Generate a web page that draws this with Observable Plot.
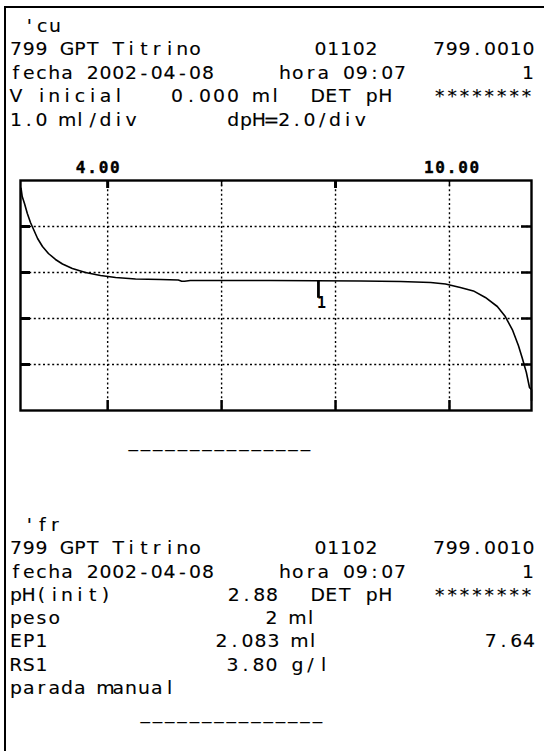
<!DOCTYPE html>
<html><head><meta charset="utf-8">
<script src="https://cdn.jsdelivr.net/npm/d3@7"></script>
<script src="https://cdn.jsdelivr.net/npm/@observablehq/plot@0.6"></script>
<style>
html,body{margin:0;padding:0;background:#fff;}
#page{position:relative;width:544px;height:751px;overflow:hidden;background:#fff;}
#border{position:absolute;left:4px;top:6px;right:0;bottom:0;border-left:2px solid #000;border-top:2px solid #000;}
.blk{position:absolute;left:0;}
</style></head><body>
<div id="page"><div id="border"></div></div>
<script>
// ---- curve data: pH (horizontal) vs volume in ml (vertical, downward)
const curvePH  = [2.48, 2.50, 2.54, 2.59, 2.645, 2.70, 2.77, 2.856, 2.96, 3.084, 3.207, 3.38, 3.61, 3.874, 4.14, 4.49, 4.93, 5.24, 5.30, 5.35, 5.45, 6.86, 8.44, 9.14, 9.67, 9.93, 10.19, 10.42, 10.63, 10.84, 10.98, 11.11, 11.21, 11.28, 11.35, 11.405, 11.44, 11.44];
const curveVol = [0.17, 0.35, 0.50, 0.717, 0.913, 1.065, 1.26, 1.435, 1.587, 1.717, 1.815, 1.913, 2.0, 2.065, 2.109, 2.141, 2.152, 2.163, 2.19, 2.19, 2.174, 2.174, 2.185, 2.196, 2.217, 2.25, 2.326, 2.40, 2.543, 2.739, 2.957, 3.26, 3.587, 3.87, 4.174, 4.50, 4.55, 4.78];
const gridPH = [4, 6, 8, 10];
const majorPH = [4, 8];
const minorPH = [6, 10];
const gridVol = [1, 2, 3, 4];
const labelPH = [4, 10];
const epPH = [7.7];
const epVolTop = 2.174;
const epVolBottom = 2.56;
const epLabelVol = 2.66;
const epLabel = ["1"];

// ---- printed text
const headerLines = [
  ["'cu"],
  ["799 GPT Titrino", "01102", "799.0010"],
  ["fecha 2002-04-08", "hora 09:07", "1"],
  ["V inicial", "0.000 ml", "DET pH", "********"],
  ["1.0 ml/div", "dpH=2.0/div"]
];
const footerLines = [
  ["'fr"],
  ["799 GPT Titrino", "01102", "799.0010"],
  ["fecha 2002-04-08", "hora 09:07", "1"],
  ["pH(init)", "2.88", "DET pH", "********"],
  ["peso", "2 ml"],
  ["EP1", "2.083 ml", "7.64"],
  ["RS1", "3.80 g/l"],
  ["parada manual"]
];
const separator = "_______________";

// ---- layout (page pixels)
const CW = 12.8;
const headerLayout = [
  [{x: 23}],
  [{x: 9.5}, {x: 314}, {x: 432.5}],
  [{x: 9.5}, {x: 278.5}, {x: 521.6}],
  [{x: 9.5}, {x: 170, cw: 14}, {x: 311, cw: 13.5}, {x: 433.5, cw: 12.4}],
  [{x: 9.5}, {x: 227, cw: 12.7}]
];
const headerY = [32, 55.5, 79, 102.5, 126];
const footerLayout = [
  [{x: 23}],
  [{x: 9.5}, {x: 314}, {x: 432.5}],
  [{x: 9.5}, {x: 278.5}, {x: 521.6}],
  [{x: 9.5}, {x: 227.3}, {x: 311, cw: 13.5}, {x: 433.5, cw: 12.4}],
  [{x: 9.5}, {x: 265, cw: 13}],
  [{x: 9.5}, {x: 215, cw: 13}, {x: 484.3}],
  [{x: 9.5}, {x: 226, cw: 13}],
  [{x: 9.5}]
];
const footerY = [531, 554.3, 577.6, 600.9, 624.2, 647.5, 670.8, 694.1];

const FONT = "'DejaVu Sans', sans-serif";
const FS = 17.6;
const SX = 1.07;
const page = document.getElementById("page");

function addText(svg, s, x0, cw, y) {
  const xs = Array.from(s, (_, k) => ((x0 + cw * (k + 0.5)) / SX).toFixed(2)).join(" ");
  svg.append("text").attr("x", xs).attr("y", y).attr("transform", `scale(${SX},1)`)
    .attr("text-anchor", "middle").style("white-space", "pre")
    .attr("fill", "#000").attr("stroke", "#000").attr("stroke-width", 0.12).text(s);
}

function textBlock(top, height, lines, layout, ys, extra) {
  const svg = d3.create("svg").attr("class", "blk").attr("width", 544).attr("height", height)
    .style("top", top + "px").style("font-family", FONT).style("font-size", FS + "px");
  lines.forEach((segs, i) => {
    segs.forEach((s, j) => {
      const L = layout[i][j];
      addText(svg, s, L.x, L.cw || CW, ys[i] - top);
    });
  });
  if (extra) extra.forEach(e => addText(svg, e.t, e.x, e.cw, e.y - top));
  page.appendChild(svg.node());
}

textBlock(0, 150, headerLines, headerLayout, headerY);

const labelFont = {fontSize: 16, fontWeight: "bold", fontFamily: "DejaVu Sans Mono", fill: "#000"};
const chart = Plot.plot({
  width: 544,
  height: 270,
  marginLeft: 20,
  marginRight: 13,
  marginTop: 30,
  marginBottom: 10,
  x: {domain: [2.47, 11.44], axis: null},
  y: {domain: [0, 5], reverse: true, axis: null},
  style: {background: "transparent", color: "#000"},
  marks: [
    Plot.gridX(gridPH, {stroke: "#000", strokeOpacity: 1, strokeWidth: 1.4, strokeDasharray: "2,2.6"}),
    Plot.gridY(gridVol, {stroke: "#000", strokeOpacity: 1, strokeWidth: 1.4, strokeDasharray: "2,2.6"}),
    Plot.tickX(majorPH, {x: d => d, stroke: "#000", strokeWidth: 3, insetBottom: 222}),
    Plot.tickX(minorPH, {x: d => d, stroke: "#000", strokeWidth: 1.5, insetBottom: 224}),
    Plot.tickX(gridPH, {x: d => d, stroke: "#000", strokeWidth: 2.5, insetTop: 220}),
    Plot.tickY(gridVol, {y: d => d, stroke: "#000", strokeWidth: 3, insetRight: 501}),
    Plot.tickY(gridVol, {y: d => d, stroke: "#000", strokeWidth: 2.5, insetLeft: 501}),
    Plot.frame({stroke: "#000", strokeWidth: 2.4}),
    Plot.line(curvePH.map((p, i) => ({pH: p, vol: curveVol[i]})), {x: "pH", y: "vol", stroke: "#000", strokeWidth: 1.6}),
    Plot.ruleX(epPH, {x: d => d, y1: epVolTop, y2: epVolBottom, stroke: "#000", strokeWidth: 2.8}),
    Plot.text(epLabel, {x: epPH[0], y: epLabelVol, text: d => d, dx: 3, fontWeight: "bold", fontSize: 15, fontFamily: "DejaVu Sans Mono", fill: "#000"}),
    Plot.axisX([labelPH[0]], {anchor: "top", tickSize: 0, tickPadding: 8, dx: -9, tickFormat: d3.format(".2f"), label: null, ...labelFont}),
    Plot.axisX([labelPH[1]], {anchor: "top", tickSize: 0, tickPadding: 8, dx: 3, tickFormat: d3.format(".2f"), label: null, ...labelFont})
  ]
});
chart.classList.add("blk");
chart.style.top = "150px";
d3.select(chart).selectAll("g[aria-label='x-axis tick label'] text").attr("letter-spacing", "1.8px").attr("stroke", "#000").attr("stroke-width", 0.4);
page.appendChild(chart);

textBlock(420, 331, footerLines, footerLayout, footerY, [
  {t: separator, x: 127, cw: 12.3, y: 447.5},
  {t: separator, x: 139, cw: 12.3, y: 719.5}
]);
</script>
</body></html>
